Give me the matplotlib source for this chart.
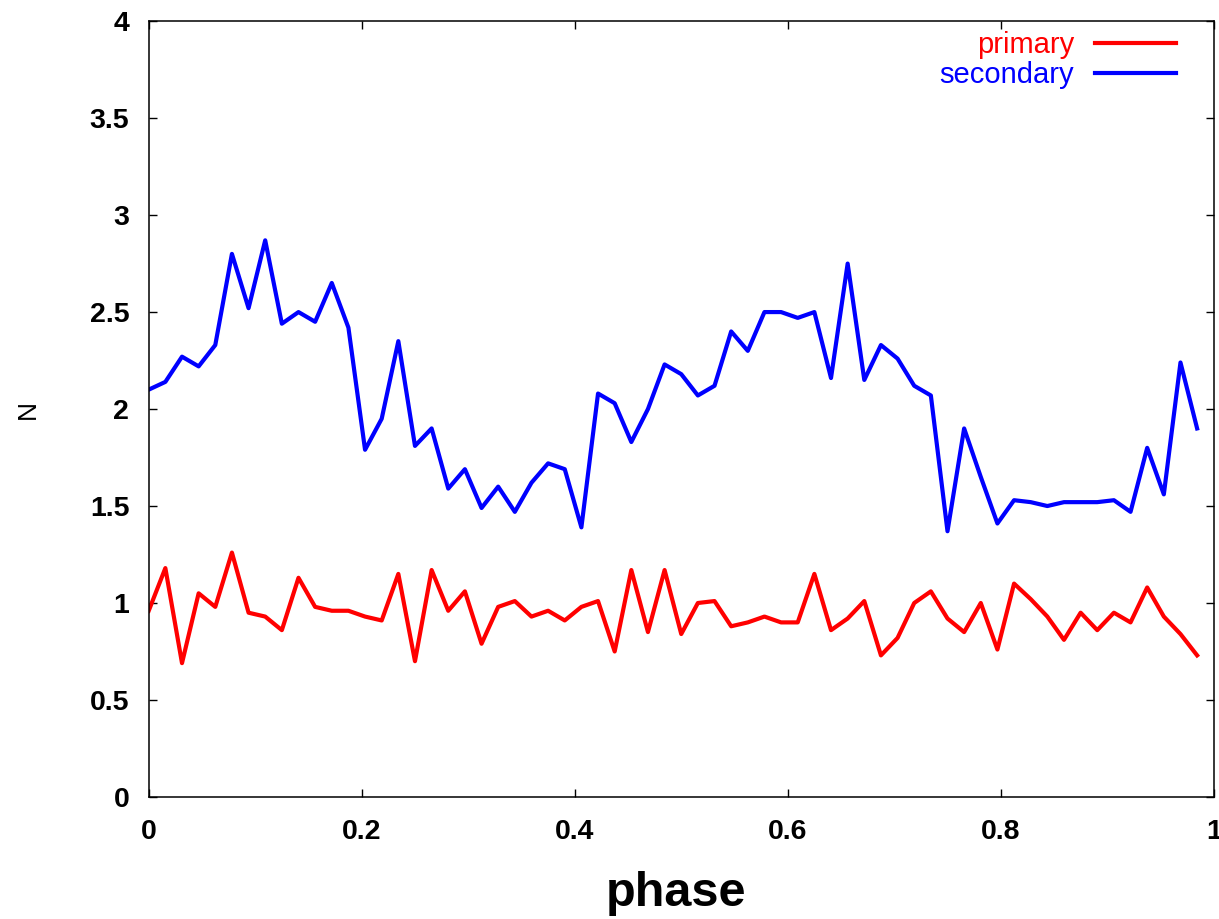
import matplotlib.pyplot as plt
import numpy as np
from matplotlib.ticker import FuncFormatter

plt.rcParams['font.family'] = ['Liberation Sans', 'DejaVu Sans']

# phase bins (64 equal bins over one period)
phase = np.arange(64) / 64.0

primary = [0.96, 1.18, 0.69, 1.05, 0.98, 1.26, 0.95, 0.93, 0.86, 1.13,
           0.98, 0.96, 0.96, 0.93, 0.91, 1.15, 0.70, 1.17, 0.96, 1.06,
           0.79, 0.98, 1.01, 0.93, 0.96, 0.91, 0.98, 1.01, 0.75, 1.17,
           0.85, 1.17, 0.84, 1.00, 1.01, 0.88, 0.90, 0.93, 0.90, 0.90,
           1.15, 0.86, 0.92, 1.01, 0.73, 0.82, 1.00, 1.06, 0.92, 0.85,
           1.00, 0.76, 1.10, 1.02, 0.93, 0.81, 0.95, 0.86, 0.95, 0.90,
           1.08, 0.93, 0.84, 0.73]

secondary = [2.10, 2.14, 2.27, 2.22, 2.33, 2.80, 2.52, 2.87, 2.44, 2.50,
             2.45, 2.65, 2.42, 1.79, 1.95, 2.35, 1.81, 1.90, 1.59, 1.69,
             1.49, 1.60, 1.47, 1.62, 1.72, 1.69, 1.39, 2.08, 2.03, 1.83,
             2.00, 2.23, 2.18, 2.07, 2.12, 2.40, 2.30, 2.50, 2.50, 2.47,
             2.50, 2.16, 2.75, 2.15, 2.33, 2.26, 2.12, 2.07, 1.37, 1.90,
             1.65, 1.41, 1.53, 1.52, 1.50, 1.52, 1.52, 1.52, 1.53, 1.47,
             1.80, 1.56, 2.24, 1.90]

fig = plt.figure(figsize=(12.19, 9.19), dpi=100)
ax = fig.add_axes([0.122, 0.1328, 0.8737, 0.8442])

ax.plot(phase, primary, color="#ff0000", lw=3, label="primary")
ax.plot(phase, secondary, color="#0000ff", lw=3, label="secondary")

ax.set_xlim(0, 1)
ax.set_ylim(0, 4)
ax.set_xticks([0, 0.2, 0.4, 0.6, 0.8, 1])
ax.set_yticks([0, 0.5, 1, 1.5, 2, 2.5, 3, 3.5, 4])
fmt = FuncFormatter(lambda v, p: "%g" % v)
ax.xaxis.set_major_formatter(fmt)
ax.yaxis.set_major_formatter(fmt)
ax.tick_params(direction="in", length=5.5, width=1, top=True, right=True,
               labelsize=20.5)
ax.tick_params(axis="x", pad=16)
ax.tick_params(axis="y", pad=14)
for lab in ax.get_xticklabels() + ax.get_yticklabels():
    lab.set_fontweight("bold")
for sp in ax.spines.values():
    sp.set_linewidth(1.1)

ax.set_xlabel("phase", fontsize=35, fontweight="bold")
ax.xaxis.set_label_coords(0.4955, -0.095)
ax.set_ylabel("N", fontsize=19, labelpad=36)

leg = ax.legend(loc="upper right", bbox_to_anchor=(0.9646, 0.987),
                frameon=False, markerfirst=False, fontsize=21,
                handlelength=2.78, handletextpad=0.72, labelspacing=0.06,
                borderpad=0, borderaxespad=0)
for txt, line in zip(leg.get_texts(), leg.get_lines()):
    txt.set_color(line.get_color())

fig.savefig("out.png", dpi=100)
